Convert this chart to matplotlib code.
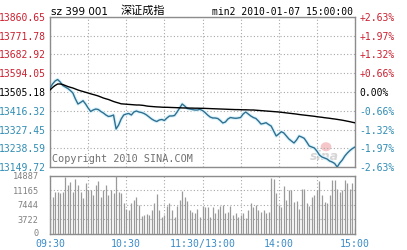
import matplotlib
matplotlib.use("Agg")
import matplotlib.pyplot as plt
from matplotlib.patches import Ellipse
from matplotlib.transforms import ScaledTranslation

# ---------------- data ----------------
prev_close = 13505.18
price_levels = [13149.72, 13238.59, 13327.45, 13416.32, 13505.18,
                13594.05, 13682.92, 13771.78, 13860.65]
price_labels = ["13149.72", "13238.59", "13327.45", "13416.32", "13505.18",
                "13594.05", "13682.92", "13771.78", "13860.65"]
pct_labels = ["-2.63%", "-1.97%", "-1.32%", "-0.66%", "0.00%",
              "+0.66%", "+1.32%", "+1.97%", "+2.63%"]
vol_levels = [0, 3722, 7444, 11165, 14887]
vol_labels = ["0", "3722", "7444", "11165", "14887"]
time_labels = ["09:30", "", "10:30", "", "11:30/13:00", "", "14:00", "", "15:00"]

price = [13524.1, 13543.1, 13557.3, 13564.4, 13552.6, 13536.0, 13528.9, 13521.8, 13512.3, 13500.4,
         13472.0, 13448.3, 13455.4, 13463.9, 13448.3, 13429.4, 13412.8, 13419.9, 13424.6, 13422.2,
         13412.8, 13405.7, 13396.2, 13389.1, 13391.5, 13396.2, 13329.8, 13348.8, 13377.2, 13396.2,
         13400.9, 13403.3, 13396.2, 13410.4, 13415.1, 13410.4, 13408.0, 13403.3, 13396.2, 13386.7,
         13377.2, 13370.1, 13365.4, 13372.5, 13374.9, 13370.1, 13382.0, 13391.5, 13391.5, 13393.8,
         13410.4, 13429.4, 13448.3, 13438.8, 13427.0, 13424.6, 13422.2, 13419.9, 13419.9, 13423.2,
         13417.5, 13408.0, 13396.2, 13386.7, 13382.0, 13382.0, 13379.6, 13370.1, 13358.3, 13363.0,
         13377.2, 13384.3, 13382.0, 13380.5, 13382.0, 13384.3, 13400.9, 13410.4, 13400.9, 13391.5,
         13384.3, 13379.6, 13367.7, 13353.5, 13355.9, 13359.7, 13351.2, 13344.0, 13320.3, 13296.6,
         13306.1, 13317.0, 13310.9, 13296.6, 13282.4, 13272.9, 13263.5, 13277.7, 13296.6, 13291.9,
         13285.7, 13268.2, 13249.3, 13244.5, 13239.8, 13225.5, 13206.6, 13197.1, 13192.4, 13187.6,
         13178.2, 13173.4, 13166.3, 13149.7, 13168.7, 13182.9, 13201.9, 13216.1, 13227.9, 13237.4,
         13244.5]

avg_price = [13514.7, 13526.5, 13536.0, 13543.1, 13543.1, 13540.7, 13536.0, 13531.2, 13527.5, 13524.1,
             13519.4, 13514.7, 13510.9, 13507.5, 13503.8, 13500.4, 13496.6, 13493.3, 13490.0, 13486.2,
             13481.5, 13476.7, 13473.0, 13469.6, 13464.9, 13460.2, 13456.4, 13453.0, 13449.2, 13448.3,
             13447.4, 13446.4, 13445.5, 13444.5, 13443.6, 13443.6, 13442.6, 13441.2, 13438.8, 13437.4,
             13436.5, 13435.5, 13434.6, 13434.1, 13433.2, 13432.7, 13432.7, 13432.2, 13431.7, 13431.3,
             13430.8, 13430.3, 13429.8, 13429.4, 13429.4, 13428.9, 13428.9, 13428.4, 13428.4, 13427.9,
             13427.9, 13427.5, 13427.0, 13426.5, 13426.0, 13425.6, 13425.1, 13424.6, 13424.2, 13423.7,
             13423.2, 13422.7, 13422.3, 13421.8, 13421.8, 13421.3, 13420.8, 13420.8, 13420.4, 13419.9,
             13419.9, 13418.9, 13418.0, 13417.0, 13416.1, 13415.1, 13414.2, 13413.3, 13412.3, 13411.4,
             13410.4, 13409.0, 13407.6, 13406.1, 13404.7, 13403.3, 13401.9, 13400.5, 13398.6, 13397.1,
             13395.7, 13394.3, 13392.9, 13391.5, 13390.1, 13388.2, 13386.7, 13385.3, 13383.4, 13382.0,
             13380.6, 13378.7, 13377.2, 13375.4, 13373.5, 13371.6, 13369.2, 13366.8, 13364.4, 13361.6,
             13359.2]

volume = [8860, 9530, 10800, 10800, 10550, 10800, 14480, 12510, 13360, 10800,
          13970, 12510, 10800, 9120, 12950, 11240, 11240, 9960, 12510, 13610,
          9530, 11240, 12510, 9960, 11240, 10550, 14887, 10800, 10370, 7840,
          6310, 6140, 8000, 8700, 9500, 7400, 4600, 4850, 5100, 4850,
          6100, 7800, 10100, 6100, 4400, 4850, 7000, 7800, 6100, 4400,
          7000, 8700, 11000, 9500, 8300, 6100, 5700, 5300, 6300, 4400,
          7000, 6800, 6800, 4400, 6800, 5300, 6300, 7000, 7400, 5300,
          5700, 7000, 4850, 5300, 4400, 4850, 5450, 4000, 6100, 8000,
          6800, 7400, 6100, 5700, 6100, 5300, 5700, 14220, 13970, 10390,
          7410, 6980, 12260, 8680, 11070, 11070, 8260, 8510, 6300, 11410,
          11410, 7830, 7150, 9360, 9960, 11240, 13370, 9960, 8260, 7830,
          9960, 13790, 13790, 11410, 10810, 11240, 13790, 12940, 11500, 12940,
          1450]

# ---------------- figure ----------------
W, H = 407, 250
fig = plt.figure(figsize=(W / 100, H / 100), dpi=100)
fig.patch.set_facecolor("white")

def box(x0, y0, x1, y1):
    return [x0 / W, 1 - y1 / H, (x1 - x0) / W, (y1 - y0) / H]

RED = "#cc1f2f"
TEAL = "#2f8cb4"
GRID = "#a8a8a8"
SPINE = "#8c8c8c"
MONO = "DejaVu Sans Mono"
FS = 7

ax = fig.add_axes(box(50, 17, 355, 167))
axv = fig.add_axes(box(50, 175.5, 355, 234))

idx = list(range(len(price)))

# main price panel
ax.plot(idx, price, color="#dcf4fc", lw=2.6, solid_capstyle="round", zorder=2)
ax.plot(idx, price, color="#2f6f90", lw=1.0, zorder=3)
ax.plot(idx, avg_price, color="black", lw=1.0, zorder=4)
ax.set_xlim(0, 120)
ax.set_ylim(price_levels[0], price_levels[-1])
ax.set_xticks(range(0, 121, 15))
ax.set_xticklabels([])
ax.set_yticks(price_levels)
ax.set_yticklabels(price_labels, fontfamily=MONO, fontsize=FS)
ax.tick_params(axis="both", length=0, pad=3)
ax.grid(True, linestyle=(0, (1, 2)), color=GRID, lw=0.8)
for s in ax.spines.values():
    s.set_color(SPINE)
    s.set_linewidth(1.0)
for lab, v in zip(ax.get_yticklabels(), price_levels):
    lab.set_color(RED if v > prev_close + 1 else (TEAL if v < prev_close - 1 else "black"))

axr = ax.twinx()
axr.set_ylim(price_levels[0], price_levels[-1])
axr.set_yticks(price_levels)
axr.set_yticklabels(pct_labels, fontfamily=MONO, fontsize=FS)
axr.tick_params(axis="y", length=0, pad=3)
for s in axr.spines.values():
    s.set_visible(False)
for lab, v in zip(axr.get_yticklabels(), price_levels):
    lab.set_color(RED if v > prev_close + 1 else (TEAL if v < prev_close - 1 else "black"))

# volume panel
axv.vlines(idx, 0, volume, color="#9a9a9a", lw=0.9, zorder=3)
axv.set_xlim(0, 120)
axv.set_ylim(vol_levels[0], vol_levels[-1])
axv.set_yticks(vol_levels)
axv.set_yticklabels(vol_labels, fontfamily=MONO, fontsize=6.2, color="#808080")
axv.set_xticks(range(0, 121, 15))
axv.set_xticklabels(time_labels, fontfamily=MONO, fontsize=7.1, color="#3a8cc8")
axv.tick_params(axis="x", length=0, pad=3.5)
axv.tick_params(axis="y", length=0, pad=8)
axv.grid(True, linestyle=(0, (1, 2)), color=GRID, lw=0.8, zorder=1)
for s in axv.spines.values():
    s.set_color(SPINE)
    s.set_linewidth(1.0)
# nudge the "0" volume label up a little so it clears the time labels
fig.canvas.draw()
lab0 = axv.get_yticklabels()[0]
lab0.set_transform(lab0.get_transform() + ScaledTranslation(0, 1.5 / 100, fig.dpi_scale_trans))

# header texts
fig.text(51 / W, 1 - 12 / H, "sz 399 001", fontsize=7.5, family="DejaVu Sans",
         va="center", ha="left", color="black")
fig.text(143 / W, 1 - 11 / H, "深证成指", fontsize=8,
         family=["Noto Sans CJK SC", "DejaVu Sans"], va="center", ha="center", color="black")
fig.text(353 / W, 1 - 12 / H, "min2 2010-01-07 15:00:00", fontsize=FS, family=MONO,
         va="center", ha="right", color="black")

# watermark
ax.text(0.005, 0.02, "Copyright 2010 SINA.COM", transform=ax.transAxes, fontsize=7.3,
        family=MONO, color="#707070", va="bottom", ha="left", zorder=5)
ax.add_patch(Ellipse((0.905, 0.135), 0.035, 0.06, transform=ax.transAxes,
                     facecolor="#f3b9bf", edgecolor="none", alpha=0.8, zorder=1))
ax.text(0.9, 0.03, "sina", transform=ax.transAxes, fontsize=9, style="italic",
        weight="bold", color="#d6d6d6", va="bottom", ha="center", zorder=1)

fig.savefig("out.png", dpi=100, facecolor="white")
